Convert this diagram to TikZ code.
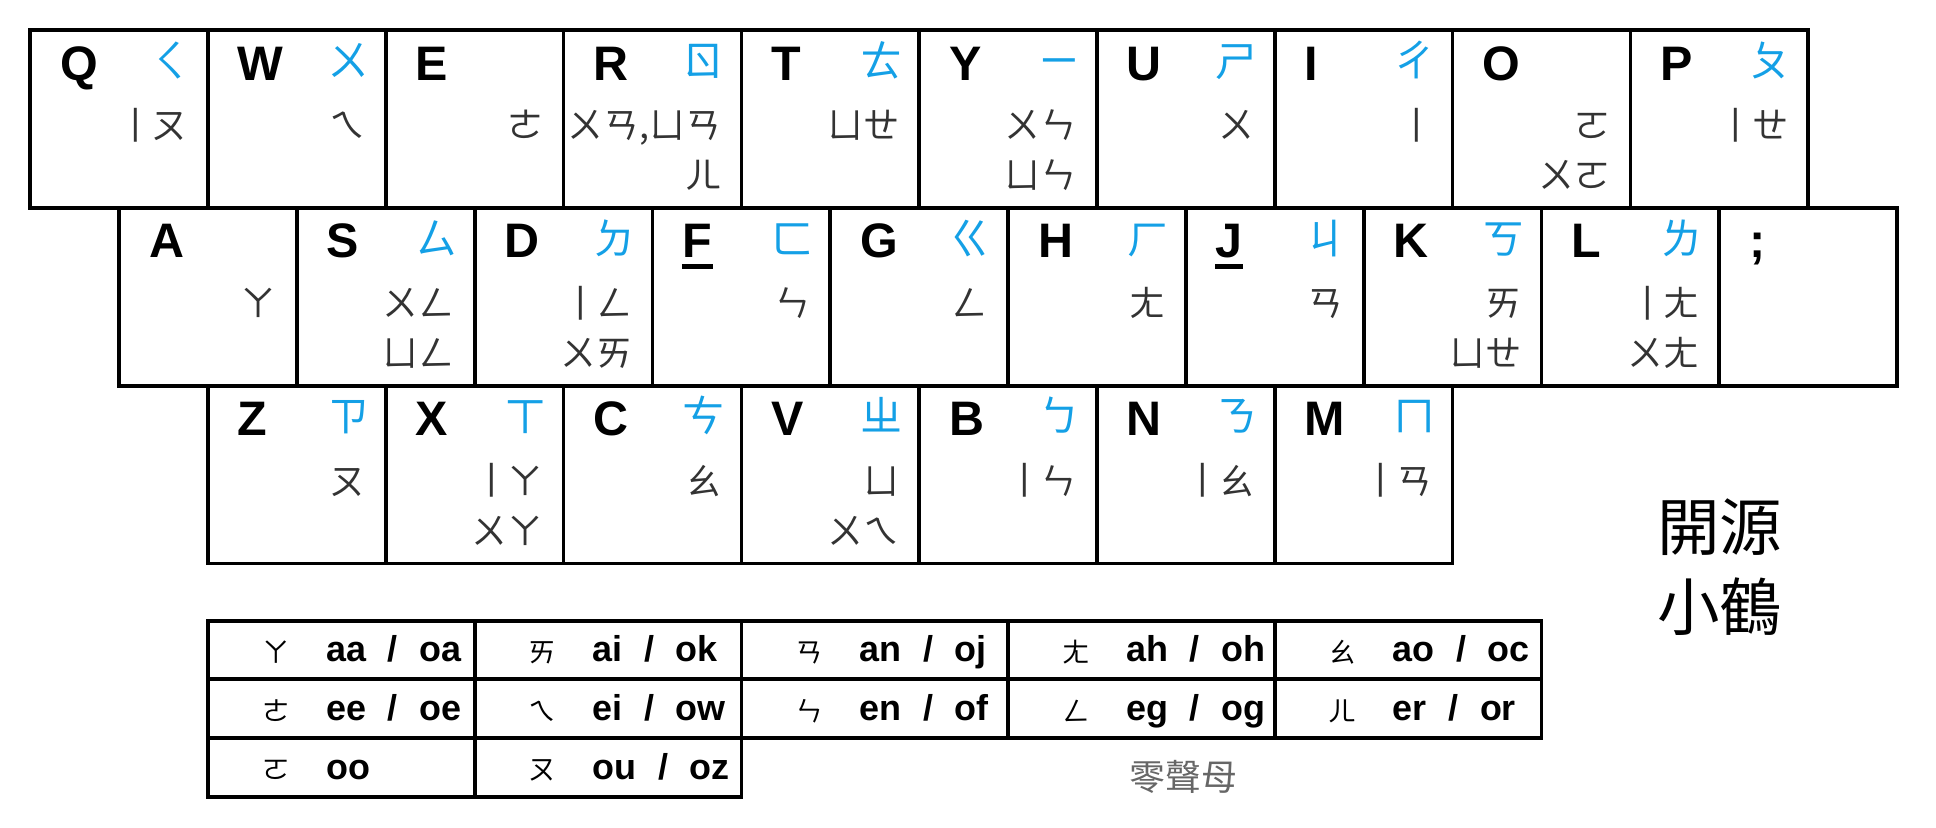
\documentclass[tikz,border=0pt]{standalone}
\usepackage{graphicx}
\usepackage{fontspec}
\setmainfont{Liberation Sans}
\newfontfamily\cjk{Noto Sans CJK TC}
\definecolor{zhuyinblue}{RGB}{20,160,230}
\newcommand{\orsep}{\hspace{0.6em}/\hspace{0.6em}}
% upright yi, as drawn in horizontal zhuyin
\newcommand{\vyi}{\makebox[1em][l]{\hspace{0.52em}\rotatebox[x=0.625em,y=0.38em]{90}{\scalebox{1.25}[1]{ㄧ}}}}

\begin{document}
\begin{tikzpicture}[x=2cm,y=2cm,
  keycap/.style={draw, line width=1.2pt, minimum width=2cm, minimum height=2cm, anchor=north west, outer sep=0pt, inner sep=0pt},
  keyletter/.style={anchor=base west, inner sep=0pt, font=\fontsize{15.5}{18}\selectfont\bfseries},
  initial/.style={anchor=east, inner sep=0pt, text=zhuyinblue, font=\cjk\fontsize{13.5}{16}\selectfont, text height=11.9pt, text depth=1.6pt},
  final/.style={anchor=east, inner sep=0pt, text=black!80, font=\cjk\fontsize{11.5}{14}\selectfont, text height=10.1pt, text depth=1.4pt},
  cell/.style={draw, line width=1.2pt, minimum width=3cm, minimum height=0.66cm, anchor=north west, outer sep=0pt, inner sep=0pt},
  cellzhuyin/.style={inner sep=0pt, font=\cjk\fontsize{8.8}{10}\selectfont, text height=7.7pt, text depth=1.1pt},
  cellcode/.style={anchor=base west, inner sep=0pt, font=\fontsize{11.5}{14}\selectfont\bfseries}
]
\useasboundingbox (0,0) rectangle (10.889,4.657);

% top row
\node[keycap] (kQ) at (0.170,4.488) {};
\node[keyletter] (lQ) at ([shift={(0.165,-0.281)}]kQ.north west) {Q};
\node[initial] (iQ) at ([shift={(-0.09,-0.17)}]kQ.north east) {ㄑ};
\node[final] (fQ) at ([shift={(-0.11,-0.534)}]kQ.north east) {\vyi ㄡ};

\node[keycap] (kW) at (1.170,4.488) {};
\node[keyletter] (lW) at ([shift={(0.165,-0.281)}]kW.north west) {W};
\node[initial] (iW) at ([shift={(-0.09,-0.17)}]kW.north east) {ㄨ};
\node[final] (fW) at ([shift={(-0.11,-0.534)}]kW.north east) {ㄟ};

\node[keycap] (kE) at (2.170,4.488) {};
\node[keyletter] (lE) at ([shift={(0.165,-0.281)}]kE.north west) {E};
\node[final] (fE) at ([shift={(-0.11,-0.534)}]kE.north east) {ㄜ};

\node[keycap] (kR) at (3.170,4.488) {};
\node[keyletter] (lR) at ([shift={(0.165,-0.281)}]kR.north west) {R};
\node[initial] (iR) at ([shift={(-0.09,-0.17)}]kR.north east) {ㄖ};
\node[final] (fR) at ([shift={(-0.11,-0.534)}]kR.north east) {ㄨㄢ,ㄩㄢ};
\node[final] (fRb) at ([shift={(-0.11,-0.815)}]kR.north east) {ㄦ};

\node[keycap] (kT) at (4.170,4.488) {};
\node[keyletter] (lT) at ([shift={(0.165,-0.281)}]kT.north west) {T};
\node[initial] (iT) at ([shift={(-0.09,-0.17)}]kT.north east) {ㄊ};
\node[final] (fT) at ([shift={(-0.11,-0.534)}]kT.north east) {ㄩㄝ};

\node[keycap] (kY) at (5.170,4.488) {};
\node[keyletter] (lY) at ([shift={(0.165,-0.281)}]kY.north west) {Y};
\node[initial] (iY) at ([shift={(-0.09,-0.17)}]kY.north east) {ㄧ};
\node[final] (fY) at ([shift={(-0.11,-0.534)}]kY.north east) {ㄨㄣ};
\node[final] (fYb) at ([shift={(-0.11,-0.815)}]kY.north east) {ㄩㄣ};

\node[keycap] (kU) at (6.170,4.488) {};
\node[keyletter] (lU) at ([shift={(0.165,-0.281)}]kU.north west) {U};
\node[initial] (iU) at ([shift={(-0.09,-0.17)}]kU.north east) {ㄕ};
\node[final] (fU) at ([shift={(-0.11,-0.534)}]kU.north east) {ㄨ};

\node[keycap] (kI) at (7.170,4.488) {};
\node[keyletter] (lI) at ([shift={(0.165,-0.281)}]kI.north west) {I};
\node[initial] (iI) at ([shift={(-0.09,-0.17)}]kI.north east) {ㄔ};
\node[final] (fI) at ([shift={(-0.11,-0.534)}]kI.north east) {\vyi};

\node[keycap] (kO) at (8.170,4.488) {};
\node[keyletter] (lO) at ([shift={(0.165,-0.281)}]kO.north west) {O};
\node[final] (fO) at ([shift={(-0.11,-0.534)}]kO.north east) {ㄛ};
\node[final] (fOb) at ([shift={(-0.11,-0.815)}]kO.north east) {ㄨㄛ};

\node[keycap] (kP) at (9.170,4.488) {};
\node[keyletter] (lP) at ([shift={(0.165,-0.281)}]kP.north west) {P};
\node[initial] (iP) at ([shift={(-0.09,-0.17)}]kP.north east) {ㄆ};
\node[final] (fP) at ([shift={(-0.11,-0.534)}]kP.north east) {\vyi ㄝ};

% home row
\node[keycap] (kA) at (0.670,3.488) {};
\node[keyletter] (lA) at ([shift={(0.165,-0.281)}]kA.north west) {A};
\node[final] (fA) at ([shift={(-0.11,-0.534)}]kA.north east) {ㄚ};

\node[keycap] (kS) at (1.670,3.488) {};
\node[keyletter] (lS) at ([shift={(0.165,-0.281)}]kS.north west) {S};
\node[initial] (iS) at ([shift={(-0.09,-0.17)}]kS.north east) {ㄙ};
\node[final] (fS) at ([shift={(-0.11,-0.534)}]kS.north east) {ㄨㄥ};
\node[final] (fSb) at ([shift={(-0.11,-0.815)}]kS.north east) {ㄩㄥ};

\node[keycap] (kD) at (2.670,3.488) {};
\node[keyletter] (lD) at ([shift={(0.165,-0.281)}]kD.north west) {D};
\node[initial] (iD) at ([shift={(-0.09,-0.17)}]kD.north east) {ㄉ};
\node[final] (fD) at ([shift={(-0.11,-0.534)}]kD.north east) {\vyi ㄥ};
\node[final] (fDb) at ([shift={(-0.11,-0.815)}]kD.north east) {ㄨㄞ};

\node[keycap] (kF) at (3.670,3.488) {};
\node[keyletter] (lF) at ([shift={(0.165,-0.281)}]kF.north west) {F};
\node[initial] (iF) at ([shift={(-0.09,-0.17)}]kF.north east) {ㄈ};
\node[final] (fF) at ([shift={(-0.11,-0.534)}]kF.north east) {ㄣ};
\draw[line width=1.5pt] ([yshift=-2.8pt]lF.base west) -- ([yshift=-2.8pt]lF.base east);

\node[keycap] (kG) at (4.670,3.488) {};
\node[keyletter] (lG) at ([shift={(0.165,-0.281)}]kG.north west) {G};
\node[initial] (iG) at ([shift={(-0.09,-0.17)}]kG.north east) {ㄍ};
\node[final] (fG) at ([shift={(-0.11,-0.534)}]kG.north east) {ㄥ};

\node[keycap] (kH) at (5.670,3.488) {};
\node[keyletter] (lH) at ([shift={(0.165,-0.281)}]kH.north west) {H};
\node[initial] (iH) at ([shift={(-0.09,-0.17)}]kH.north east) {ㄏ};
\node[final] (fH) at ([shift={(-0.11,-0.534)}]kH.north east) {ㄤ};

\node[keycap] (kJ) at (6.670,3.488) {};
\node[keyletter] (lJ) at ([shift={(0.165,-0.281)}]kJ.north west) {J};
\node[initial] (iJ) at ([shift={(-0.09,-0.17)}]kJ.north east) {ㄐ};
\node[final] (fJ) at ([shift={(-0.11,-0.534)}]kJ.north east) {ㄢ};
\draw[line width=1.5pt] ([yshift=-2.8pt]lJ.base west) -- ([yshift=-2.8pt]lJ.base east);

\node[keycap] (kK) at (7.670,3.488) {};
\node[keyletter] (lK) at ([shift={(0.165,-0.281)}]kK.north west) {K};
\node[initial] (iK) at ([shift={(-0.09,-0.17)}]kK.north east) {ㄎ};
\node[final] (fK) at ([shift={(-0.11,-0.534)}]kK.north east) {ㄞ};
\node[final] (fKb) at ([shift={(-0.11,-0.815)}]kK.north east) {ㄩㄝ};

\node[keycap] (kL) at (8.670,3.488) {};
\node[keyletter] (lL) at ([shift={(0.165,-0.281)}]kL.north west) {L};
\node[initial] (iL) at ([shift={(-0.09,-0.17)}]kL.north east) {ㄌ};
\node[final] (fL) at ([shift={(-0.11,-0.534)}]kL.north east) {\vyi ㄤ};
\node[final] (fLb) at ([shift={(-0.11,-0.815)}]kL.north east) {ㄨㄤ};

\node[keycap] (kSemi) at (9.670,3.488) {};
\node[keyletter] (lSemi) at ([shift={(0.165,-0.281)}]kSemi.north west) {;};

% bottom row
\node[keycap] (kZ) at (1.170,2.488) {};
\node[keyletter] (lZ) at ([shift={(0.165,-0.281)}]kZ.north west) {Z};
\node[initial] (iZ) at ([shift={(-0.09,-0.17)}]kZ.north east) {ㄗ};
\node[final] (fZ) at ([shift={(-0.11,-0.534)}]kZ.north east) {ㄡ};

\node[keycap] (kX) at (2.170,2.488) {};
\node[keyletter] (lX) at ([shift={(0.165,-0.281)}]kX.north west) {X};
\node[initial] (iX) at ([shift={(-0.09,-0.17)}]kX.north east) {ㄒ};
\node[final] (fX) at ([shift={(-0.11,-0.534)}]kX.north east) {\vyi ㄚ};
\node[final] (fXb) at ([shift={(-0.11,-0.815)}]kX.north east) {ㄨㄚ};

\node[keycap] (kC) at (3.170,2.488) {};
\node[keyletter] (lC) at ([shift={(0.165,-0.281)}]kC.north west) {C};
\node[initial] (iC) at ([shift={(-0.09,-0.17)}]kC.north east) {ㄘ};
\node[final] (fC) at ([shift={(-0.11,-0.534)}]kC.north east) {ㄠ};

\node[keycap] (kV) at (4.170,2.488) {};
\node[keyletter] (lV) at ([shift={(0.165,-0.281)}]kV.north west) {V};
\node[initial] (iV) at ([shift={(-0.09,-0.17)}]kV.north east) {ㄓ};
\node[final] (fV) at ([shift={(-0.11,-0.534)}]kV.north east) {ㄩ};
\node[final] (fVb) at ([shift={(-0.11,-0.815)}]kV.north east) {ㄨㄟ};

\node[keycap] (kB) at (5.170,2.488) {};
\node[keyletter] (lB) at ([shift={(0.165,-0.281)}]kB.north west) {B};
\node[initial] (iB) at ([shift={(-0.09,-0.17)}]kB.north east) {ㄅ};
\node[final] (fB) at ([shift={(-0.11,-0.534)}]kB.north east) {\vyi ㄣ};

\node[keycap] (kN) at (6.170,2.488) {};
\node[keyletter] (lN) at ([shift={(0.165,-0.281)}]kN.north west) {N};
\node[initial] (iN) at ([shift={(-0.09,-0.17)}]kN.north east) {ㄋ};
\node[final] (fN) at ([shift={(-0.11,-0.534)}]kN.north east) {\vyi ㄠ};

\node[keycap] (kM) at (7.170,2.488) {};
\node[keyletter] (lM) at ([shift={(0.165,-0.281)}]kM.north west) {M};
\node[initial] (iM) at ([shift={(-0.09,-0.17)}]kM.north east) {ㄇ};
\node[final] (fM) at ([shift={(-0.11,-0.534)}]kM.north east) {\vyi ㄢ};

% title
\node[font=\cjk\fontsize{20}{24}\selectfont] (title1) at (9.674,1.693) {開源};
\node[font=\cjk\fontsize{20}{24}\selectfont] (title2) at (9.674,1.243) {小鶴};

% zero-initial table
\node[cell] (c11) at (1.170,1.166) {};
\node[cellzhuyin] (z11) at ([shift={(0.382,-0.012)}]c11.west) {ㄚ};
\node[cellcode] (o11) at ([shift={(0.661,-0.066)}]c11.west) {aa\orsep oa};
\node[cell] (c12) at (2.670,1.166) {};
\node[cellzhuyin] (z12) at ([shift={(0.382,-0.012)}]c12.west) {ㄞ};
\node[cellcode] (o12) at ([shift={(0.661,-0.066)}]c12.west) {ai\orsep ok};
\node[cell] (c13) at (4.170,1.166) {};
\node[cellzhuyin] (z13) at ([shift={(0.382,-0.012)}]c13.west) {ㄢ};
\node[cellcode] (o13) at ([shift={(0.661,-0.066)}]c13.west) {an\orsep oj};
\node[cell] (c14) at (5.670,1.166) {};
\node[cellzhuyin] (z14) at ([shift={(0.382,-0.012)}]c14.west) {ㄤ};
\node[cellcode] (o14) at ([shift={(0.661,-0.066)}]c14.west) {ah\orsep oh};
\node[cell] (c15) at (7.170,1.166) {};
\node[cellzhuyin] (z15) at ([shift={(0.382,-0.012)}]c15.west) {ㄠ};
\node[cellcode] (o15) at ([shift={(0.661,-0.066)}]c15.west) {ao\orsep oc};

\node[cell] (c21) at (1.170,0.836) {};
\node[cellzhuyin] (z21) at ([shift={(0.382,-0.012)}]c21.west) {ㄜ};
\node[cellcode] (o21) at ([shift={(0.661,-0.066)}]c21.west) {ee\orsep oe};
\node[cell] (c22) at (2.670,0.836) {};
\node[cellzhuyin] (z22) at ([shift={(0.382,-0.012)}]c22.west) {ㄟ};
\node[cellcode] (o22) at ([shift={(0.661,-0.066)}]c22.west) {ei\orsep ow};
\node[cell] (c23) at (4.170,0.836) {};
\node[cellzhuyin] (z23) at ([shift={(0.382,-0.012)}]c23.west) {ㄣ};
\node[cellcode] (o23) at ([shift={(0.661,-0.066)}]c23.west) {en\orsep of};
\node[cell] (c24) at (5.670,0.836) {};
\node[cellzhuyin] (z24) at ([shift={(0.382,-0.012)}]c24.west) {ㄥ};
\node[cellcode] (o24) at ([shift={(0.661,-0.066)}]c24.west) {eg\orsep og};
\node[cell] (c25) at (7.170,0.836) {};
\node[cellzhuyin] (z25) at ([shift={(0.382,-0.012)}]c25.west) {ㄦ};
\node[cellcode] (o25) at ([shift={(0.661,-0.066)}]c25.west) {er\orsep or};

\node[cell] (c31) at (1.170,0.506) {};
\node[cellzhuyin] (z31) at ([shift={(0.382,-0.012)}]c31.west) {ㄛ};
\node[cellcode] (o31) at ([shift={(0.661,-0.066)}]c31.west) {oo};
\node[cell] (c32) at (2.670,0.506) {};
\node[cellzhuyin] (z32) at ([shift={(0.382,-0.012)}]c32.west) {ㄡ};
\node[cellcode] (o32) at ([shift={(0.661,-0.066)}]c32.west) {ou\orsep oz};

\node[font=\cjk\fontsize{11.5}{14}\selectfont, text=black!60] (zero) at (6.657,0.289) {零聲母};
\end{tikzpicture}
\end{document}
